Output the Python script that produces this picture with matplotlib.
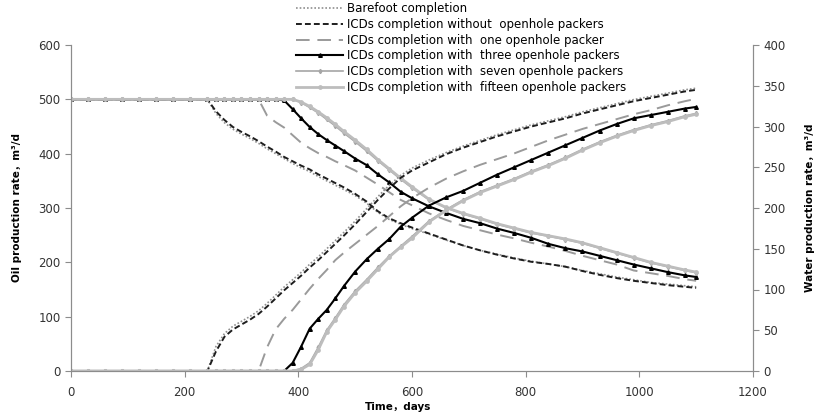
import matplotlib
matplotlib.use("Agg")
import matplotlib.pyplot as plt

plt.rcParams['font.family'] = ['DejaVu Sans', 'Noto Sans CJK SC']

# time axis, days
days = [0, 30, 60, 90, 120, 150, 180, 210, 240,
        255, 270, 285, 300, 315, 330, 345, 360, 375, 390, 405, 420, 435, 450, 465, 480,
        500, 520, 540, 560, 580, 600,
        630, 660, 690, 720, 750, 780, 810, 840, 870, 900, 930, 960, 990, 1020, 1050, 1080,
        1100]

# oil production rate, m3/d (left axis)
oil_barefoot = [500, 500, 500, 500, 500, 500, 500, 500, 500,
                474, 457, 445, 436, 428, 419, 409, 400, 391, 382, 374, 367, 358, 350, 342, 334,
                323, 309, 292, 279, 270, 262,
                252, 241, 231, 222, 215, 208, 202, 197, 192, 185, 179, 173, 168, 163, 160, 157,
                155]
oil_nopacker = [500, 500, 500, 500, 500, 500, 500, 500, 500,
                478, 462, 449, 440, 432, 423, 413, 404, 394, 386, 378, 371, 362, 354, 346, 338,
                326, 312, 294, 281, 272, 264,
                253, 242, 231, 222, 214, 207, 201, 197, 192, 184, 177, 171, 166, 162, 158, 155,
                153]
oil_one = [500, 500, 500, 500, 500, 500, 500, 500, 500,
           500, 500, 500, 500, 500, 500, 470, 458, 448, 434, 420, 410, 401, 394, 386, 379,
           369, 356, 343, 329, 315, 305,
           290, 278, 267, 259, 251, 244, 236, 229, 221, 212, 204, 196, 185, 180, 175, 169,
           166]
oil_three = [500, 500, 500, 500, 500, 500, 500, 500, 500,
             500, 500, 500, 500, 500, 500, 500, 500, 498, 482, 465, 449, 436, 425, 415, 405,
             391, 379, 362, 347, 330, 318,
             303, 291, 280, 272, 262, 254, 245, 234, 226, 220, 212, 204, 196, 189, 182, 176,
             173]
oil_seven = [500, 500, 500, 500, 500, 500, 500, 500, 500,
             500, 500, 500, 500, 500, 500, 500, 500, 500, 500, 494, 485, 475, 463, 451, 438,
             422, 405, 387, 370, 353, 337,
             315, 300, 289, 280, 270, 262, 254, 248, 242, 235, 226, 217, 208, 199, 192, 185,
             181]
oil_fifteen = [500, 500, 500, 500, 500, 500, 500, 500, 500,
               500, 500, 500, 500, 500, 500, 500, 500, 500, 500, 495, 487, 477, 466, 454, 441,
               425, 408, 389, 372, 355, 339,
               316, 301, 290, 281, 271, 263, 255, 249, 243, 236, 227, 218, 209, 200, 193, 186,
               182]

# water production rate, m3/d (right axis)
water_barefoot = [0, 0, 0, 0, 0, 0, 0, 0, 0,
                  30, 46, 55, 61, 67, 74, 83, 93, 103, 112, 121, 131, 140, 150, 160, 170,
                  184, 199, 214, 228, 240, 249,
                  259, 268, 276, 283, 290, 296, 302, 307, 312, 318, 323, 328, 333, 337, 341, 345,
                  347]
water_nopacker = [0, 0, 0, 0, 0, 0, 0, 0, 0,
                  24, 42, 51, 57, 63, 70, 79, 89, 99, 108, 117, 127, 136, 146, 156, 166,
                  180, 195, 210, 224, 237, 246,
                  256, 266, 274, 281, 288, 294, 300, 305, 310, 316, 321, 326, 331, 335, 339, 343,
                  345]
water_one = [0, 0, 0, 0, 0, 0, 0, 0, 0,
             0, 0, 0, 0, 0, 0, 29, 51, 64, 75, 88, 101, 113, 124, 136, 145,
             156, 167, 178, 190, 202, 212,
             225, 236, 245, 253, 260, 267, 275, 283, 290, 297, 303, 309, 315, 320, 326, 331,
             334]
water_three = [0, 0, 0, 0, 0, 0, 0, 0, 0,
               0, 0, 0, 0, 0, 0, 0, 0, 0, 10, 30, 52, 64, 75, 89, 104,
               122, 137, 150, 162, 177, 188,
               203, 213, 221, 231, 241, 250, 259, 268, 277, 286, 295, 303, 310, 314, 318, 322,
               324]
water_seven = [0, 0, 0, 0, 0, 0, 0, 0, 0,
               0, 0, 0, 0, 0, 0, 0, 0, 0, 0, 3, 10, 29, 50, 65, 81,
               98, 112, 127, 141, 153, 165,
               184, 198, 210, 220, 228, 236, 245, 253, 262, 272, 281, 289, 296, 302, 307, 313,
               316]
water_fifteen = [0, 0, 0, 0, 0, 0, 0, 0, 0,
                 0, 0, 0, 0, 0, 0, 0, 0, 0, 0, 2, 8, 26, 48, 63, 79,
                 96, 110, 125, 140, 152, 163,
                 183, 197, 209, 219, 227, 235, 244, 252, 261, 271, 280, 288, 295, 301, 306, 312,
                 315]

labels = ["Barefoot completion",
          "ICDs completion without  openhole packers",
          "ICDs completion with  one openhole packer",
          "ICDs completion with  three openhole packers",
          "ICDs completion with  seven openhole packers",
          "ICDs completion with  fifteen openhole packers"]

styles = [
    dict(color='#8f8f8f', lw=1.2, ls=(0, (1, 1.2))),
    dict(color='#1e1e1e', lw=1.4, ls=(0, (3, 1.6))),
    dict(color='#9a9a9a', lw=1.4, ls=(0, (7, 4))),
    dict(color='#000000', lw=1.5, marker='^', ms=2.6),
    dict(color='#a6a6a6', lw=1.2, marker='d', ms=2.2),
    dict(color='#bdbdbd', lw=2.0, marker='o', ms=2.4),
]

oil = [oil_barefoot, oil_nopacker, oil_one, oil_three, oil_seven, oil_fifteen]
water = [water_barefoot, water_nopacker, water_one, water_three, water_seven, water_fifteen]

fig = plt.figure(figsize=(8.2, 4.17), dpi=100)
ax = fig.add_axes([71 / 820, 1 - 371 / 417, 682 / 820, 326 / 417])
ax2 = ax.twinx()

handles = []
for o, w, lab, st in zip(oil, water, labels, styles):
    h, = ax.plot(days, o, label=lab, **st)
    ax2.plot(days, w, **st)
    handles.append(h)

ax.set_xlim(0, 1200)
ax.set_ylim(0, 600)
ax2.set_ylim(0, 400)
ax.set_xticks(range(0, 1201, 200))
ax.set_yticks(range(0, 601, 100))
ax2.set_yticks(range(0, 401, 50))

for a in (ax, ax2):
    for s in a.spines.values():
        s.set_color('#8c8c8c')
    a.spines['top'].set_visible(False)
    a.tick_params(colors='#8c8c8c', labelcolor='#333333', labelsize=8.5, length=4, width=0.8)
ax.tick_params(axis='x', pad=7)

ax.set_xlabel("Time，days", fontsize=7.5, fontweight='bold', labelpad=2)
ax.xaxis.set_label_coords(0.48, -0.095)
ax.set_ylabel("Oil production rate，m³/d", fontsize=7.5, fontweight='bold', labelpad=12)
ax2.set_ylabel("Water production rate，m³/d", fontsize=7.5, fontweight='bold', labelpad=14)

fig.legend(handles=handles, loc='upper left', bbox_to_anchor=(296 / 820, 1 - 2 / 417),
           frameon=False, fontsize=8.5, handlelength=4.0, handletextpad=0.3,
           labelspacing=0.24, borderaxespad=0, borderpad=0)

fig.savefig("out.png", dpi=100)
